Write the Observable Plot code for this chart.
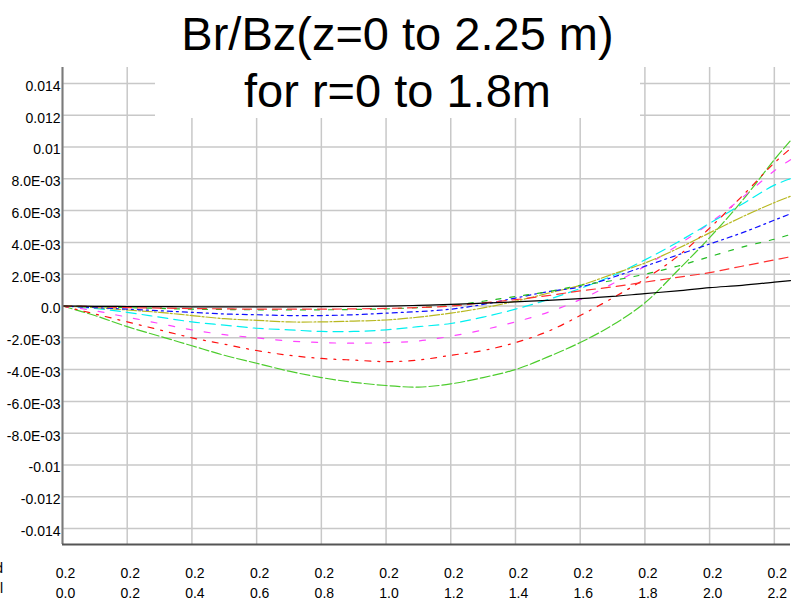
<!DOCTYPE html>
<html><head><meta charset="utf-8">
<script src="https://cdn.jsdelivr.net/npm/d3@7"></script>
<script src="https://cdn.jsdelivr.net/npm/@observablehq/plot@0.6"></script>
<style>
html,body{margin:0;padding:0;background:#fff;overflow:hidden}
#wrap{position:relative;width:798px;height:606px;overflow:hidden;font-family:"Liberation Sans",Arial,sans-serif;color:#000}
#chart{position:absolute;left:0;top:0}
#title{position:absolute;left:155px;top:0;width:485px;height:118px;background:#fff;text-align:center;font-size:47px;line-height:57px;padding-top:5px;box-sizing:border-box;white-space:nowrap}
.rowlab{position:absolute;left:-30px;width:33px;text-align:right;font-size:14px;line-height:14px}
</style></head><body>
<div id="wrap">
  <div id="chart"></div>
  <div id="title">Br/Bz(z=0 to 2.25 m)<br>for r=0 to 1.8m</div>
  <div class="rowlab" style="top:561px">d</div>
  <div class="rowlab" style="top:581px">l</div>
</div>
<script>
// ---- data ----
const zValues = [0,0.1,0.2,0.3,0.4,0.5,0.6,0.7,0.8,0.9,1.0,1.1,1.2,1.3,1.4,1.5,1.6,1.7,1.8,1.9,2.0,2.1,2.2,2.25];

const blackSolid   = [0,-0.00002,-0.00003,-0.00004,-0.00005,-0.00005,-0.00005,-0.00005,-0.00004,-0.00003,-0.00001,0.00004,0.0001,0.00018,0.00026,0.00035,0.00046,0.0006,0.00078,0.00095,0.00115,0.0013,0.0015,0.0016];
const redDash      = [0,-0.00004,-0.0001,-0.00013,-0.00016,-0.00018,-0.0002,-0.0002,-0.0002,-0.00018,-0.00015,-0.0001,0.0,0.0002,0.0004,0.00065,0.00095,0.0012,0.0015,0.0018,0.0021,0.0025,0.0029,0.0031];
const greenDash    = [0,-0.00004,-0.0001,-0.00015,-0.0002,-0.00022,-0.00024,-0.00025,-0.00024,-0.00022,-0.00018,-0.0001,0.00003,0.0003,0.0006,0.0009,0.0013,0.0016,0.002,0.0025,0.0031,0.0037,0.0042,0.0045];
const blueDashDot  = [0,-0.0001,-0.0002,-0.0003,-0.0004,-0.0005,-0.00055,-0.0006,-0.0006,-0.00055,-0.00045,-0.00035,-0.0002,0.0001,0.0005,0.0009,0.0012,0.0018,0.0025,0.0032,0.0039,0.0046,0.0054,0.0058];
const oliveDashDot = [0,-0.0001,-0.00025,-0.0004,-0.0006,-0.0008,-0.0009,-0.001,-0.001,-0.00095,-0.00088,-0.0007,-0.00045,-0.00012,0.0003,0.0008,0.0013,0.002,0.0027,0.0036,0.0046,0.0056,0.0065,0.0069];
const cyanDash     = [0,-0.00015,-0.0004,-0.0007,-0.001,-0.0012,-0.0014,-0.0015,-0.0016,-0.0016,-0.0015,-0.0013,-0.0011,-0.0007,-0.0002,0.0004,0.0011,0.0019,0.0029,0.004,0.0052,0.0064,0.0076,0.008];
const magentaDash  = [0,-0.0003,-0.0007,-0.0011,-0.0015,-0.0018,-0.002,-0.0022,-0.0023,-0.00234,-0.0023,-0.0022,-0.0019,-0.0015,-0.001,-0.0004,0.0004,0.0014,0.0025,0.0038,0.0052,0.0068,0.0085,0.0092];
const redDashDot   = [0,-0.0005,-0.001,-0.0015,-0.002,-0.0024,-0.0028,-0.0031,-0.0033,-0.0034,-0.0035,-0.0034,-0.0031,-0.0028,-0.0023,-0.0016,-0.0006,0.0005,0.0017,0.0031,0.0049,0.0069,0.009,0.0099];
const lightGreen   = [0,-0.0006,-0.0013,-0.0019,-0.0025,-0.0031,-0.0036,-0.0041,-0.0045,-0.0048,-0.005,-0.0051,-0.0049,-0.0045,-0.004,-0.0032,-0.0023,-0.0012,0.0002,0.0022,0.0043,0.0066,0.0092,0.0104];

const yTicks = [-0.014,-0.012,-0.01,-0.008,-0.006,-0.004,-0.002,0,0.002,0.004,0.006,0.008,0.01,0.012,0.014];
const yTickLabels = ["-0.014","-0.012","-0.01","-8.0E-03","-6.0E-03","-4.0E-03","-2.0E-03","0.0","2.0E-03","4.0E-03","6.0E-03","8.0E-03","0.01","0.012","0.014"];
const xTicks = [0,0.2,0.4,0.6,0.8,1.0,1.2,1.4,1.6,1.8,2.0,2.2];
const xTickTopRow = ["0.2","0.2","0.2","0.2","0.2","0.2","0.2","0.2","0.2","0.2","0.2","0.2"];
const xTickBottomRow = ["0.0","0.2","0.4","0.6","0.8","1.0","1.2","1.4","1.6","1.8","2.0","2.2"];

// ---- styles (not data) ----
const series = [
  {values: lightGreen,   stroke: "#4ccc2c", dash: "10,3"},
  {values: redDashDot,   stroke: "#ff1010", dash: "6,7,2,7"},
  {values: magentaDash,  stroke: "#ff44ff", dash: "6,12"},
  {values: cyanDash,     stroke: "#00f0f0", dash: "10,6"},
  {values: oliveDashDot, stroke: "#b8b820", dash: "10,2,2,2"},
  {values: blueDashDot,  stroke: "#1010ff", dash: "5,4,2,4"},
  {values: greenDash,    stroke: "#22bb22", dash: "5,9"},
  {values: redDash,      stroke: "#ff3030", dash: "9,6"},
  {values: blackSolid,   stroke: "#000000", dash: null}
];

const yLabelMap = new Map(yTicks.map((t, i) => [t, yTickLabels[i]]));
const xLabelMap = new Map(xTicks.map((t, i) => [t, xTickTopRow[i] + "\n" + xTickBottomRow[i]]));

const lineMarks = series.map(s => {
  const rows = s.values.map((v, i) => ({z: zValues[i], v}));
  const opts = {x: "z", y: "v", stroke: s.stroke, strokeWidth: 1.2, curve: "catmull-rom"};
  if (s.dash) opts.strokeDasharray = s.dash;
  return Plot.line(rows, opts);
});

const chart = Plot.plot({
  width: 798,
  height: 606,
  marginLeft: 62,
  marginRight: 8,
  marginTop: 67,
  marginBottom: 62,
  style: {fontFamily: "'Liberation Sans', Arial, sans-serif", fontSize: "14px", color: "#000", background: "#fff"},
  x: {domain: [0, 2.25]},
  y: {domain: [-0.015, 0.015]},
  marks: [
    Plot.gridX(xTicks, {stroke: "#c8c8c8", strokeOpacity: 1, strokeWidth: 1.5}),
    Plot.gridY(yTicks, {stroke: "#c8c8c8", strokeOpacity: 1, strokeWidth: 1.5}),
    Plot.axisY(yTicks, {tickSize: 0, tickPadding: 2, dy: 3, tickFormat: d => yLabelMap.get(d), fontSize: 14, label: null}),
    Plot.axisX(xTicks, {tickSize: 0, tickPadding: 19, dx: 3, tickFormat: d => xLabelMap.get(d), fontSize: 14, lineHeight: 1.43, label: null}),
    ...lineMarks,
    Plot.ruleX([0], {stroke: "#7a7a7a", strokeWidth: 2}),
    Plot.ruleY([-0.015], {stroke: "#555555", strokeWidth: 2})
  ]
});
document.getElementById("chart").appendChild(chart);
</script>
</body></html>
